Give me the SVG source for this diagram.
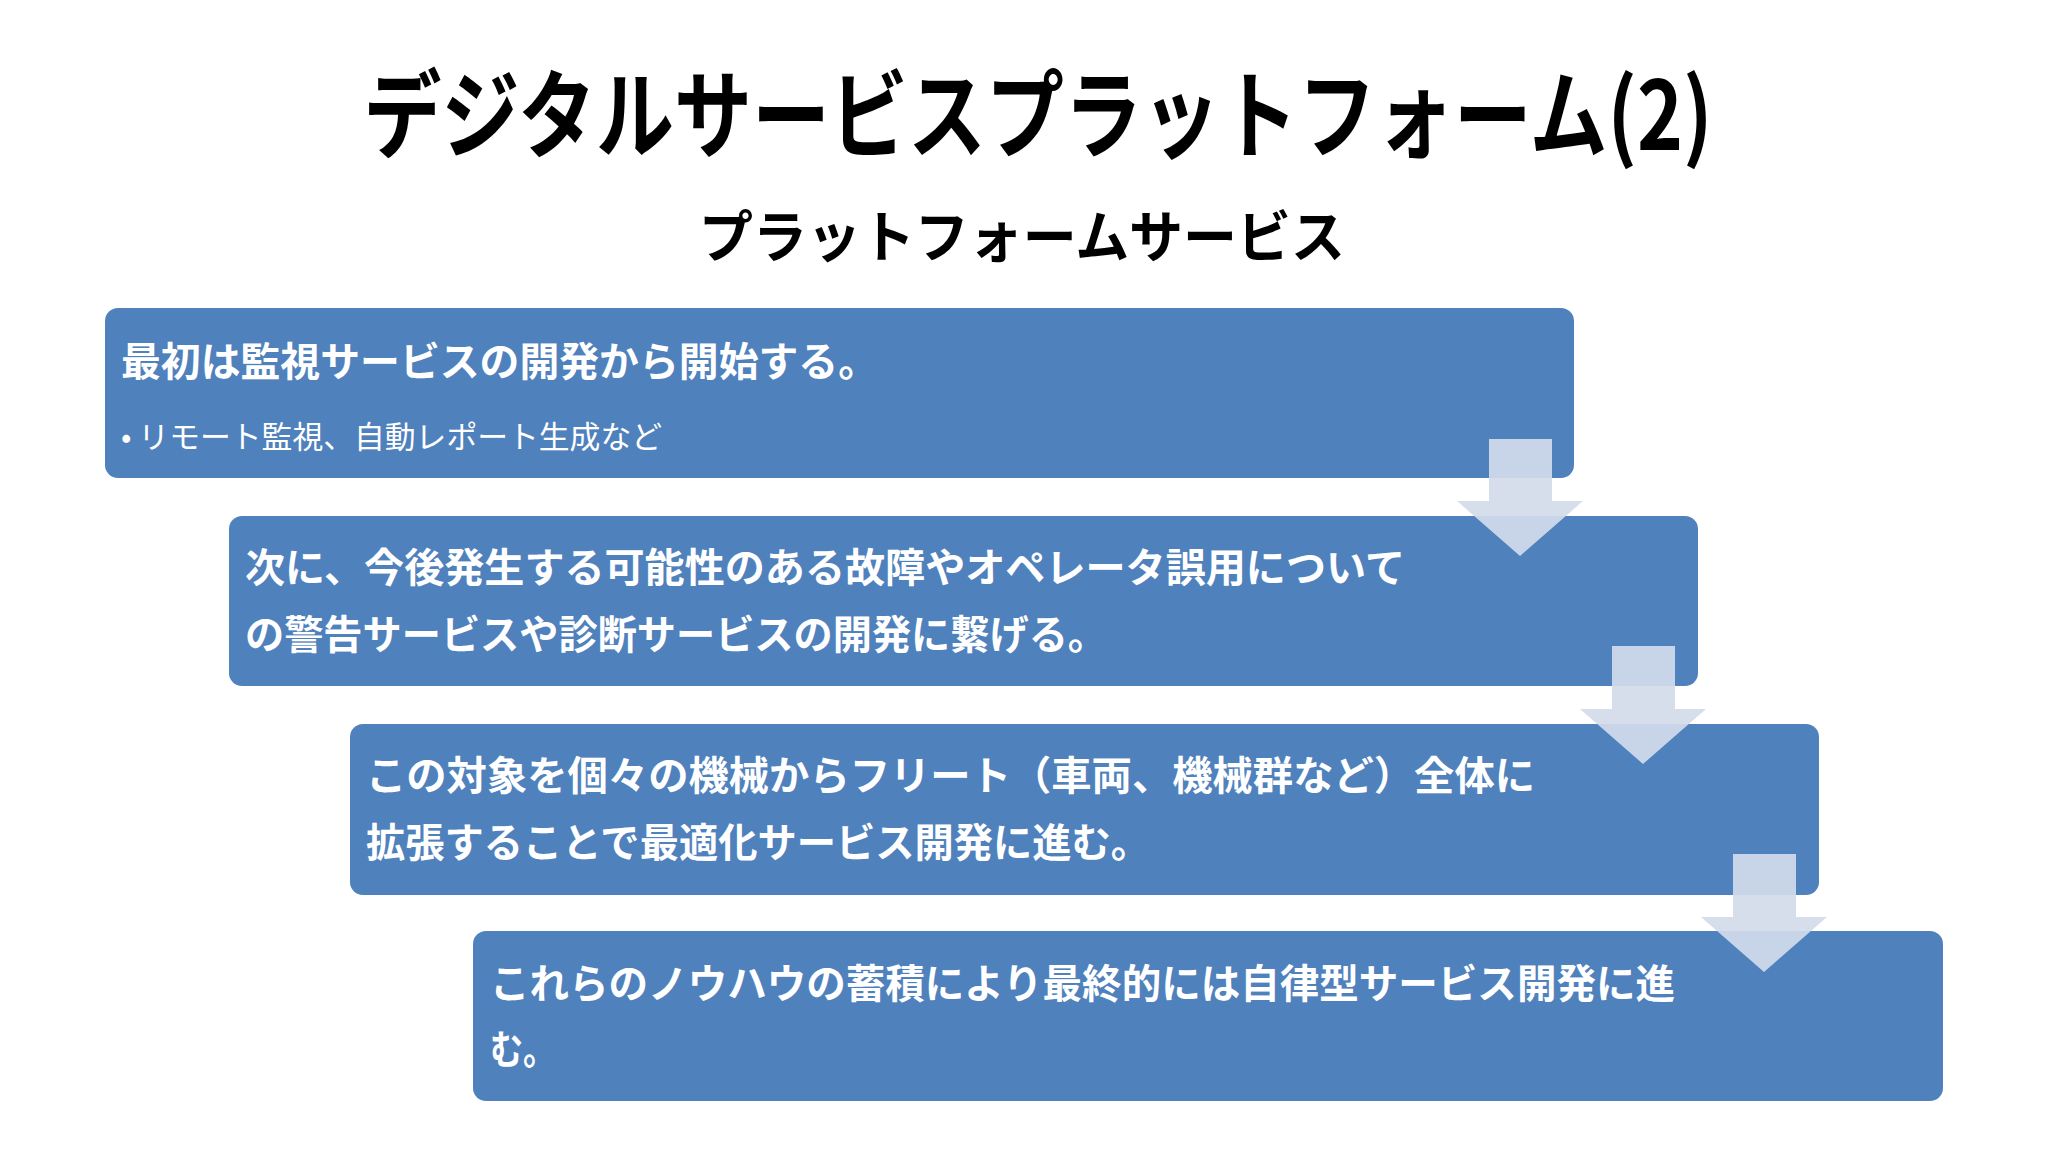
<svg xmlns="http://www.w3.org/2000/svg" width="2048" height="1152" viewBox="0 0 2048 1152">
<style>
.box{fill:#4f81bd}
.t{font-family:"Noto Sans CJK JP",sans-serif;font-weight:bold;fill:#fff;font-size:40px}
.s{font-family:"Noto Sans CJK JP",sans-serif;fill:#fff;font-size:31px}
.h{font-family:"Noto Sans CJK JP",sans-serif;font-weight:bold;fill:#000;text-anchor:middle}
.arr{fill:#d3dbea;opacity:0.92}
</style>
<rect width="2048" height="1152" fill="#fff"/>
<text class="h" x="1038" y="150" font-size="96" textLength="1349" lengthAdjust="spacingAndGlyphs">デジタルサービスプラットフォーム(2)</text>
<text class="h" x="1022" y="257" font-size="56" textLength="646" lengthAdjust="spacingAndGlyphs">プラットフォームサービス</text>
<g id="node1"><rect class="box" x="105" y="308" width="1469" height="170" rx="13"/>
<text class="t" x="121" y="376" textLength="757" lengthAdjust="spacingAndGlyphs">最初は監視サービスの開発から開始する。</text>
<text class="s" x="121" y="448" textLength="541" lengthAdjust="spacingAndGlyphs">• リモート監視、自動レポート生成など</text></g>
<g id="node2"><rect class="box" x="229" y="516" width="1469" height="170" rx="13"/>
<text class="t" x="245" y="582" textLength="1160" lengthAdjust="spacingAndGlyphs">次に、今後発生する可能性のある故障やオペレータ誤用について</text>
<text class="t" x="245" y="649" textLength="862" lengthAdjust="spacingAndGlyphs">の警告サービスや診断サービスの開発に繋げる。</text></g>
<g id="node3"><rect class="box" x="350" y="724" width="1469" height="171" rx="13"/>
<text class="t" x="366" y="790" textLength="1169" lengthAdjust="spacingAndGlyphs">この対象を個々の機械からフリート（車両、機械群など）全体に</text>
<text class="t" x="366" y="857" textLength="784" lengthAdjust="spacingAndGlyphs">拡張することで最適化サービス開発に進む。</text></g>
<g id="node4"><rect class="box" x="473" y="931" width="1470" height="170" rx="13"/>
<text class="t" x="490" y="998" textLength="1185" lengthAdjust="spacingAndGlyphs">これらのノウハウの蓄積により最終的には自律型サービス開発に進</text>
<text class="t" x="490" y="1064" textLength="66" lengthAdjust="spacingAndGlyphs">む。</text></g>
<g id="connectors">
<polygon class="arr" points="1489,439 1552,439 1552,501 1583,501 1520,556 1457,501 1489,501"/>
<polygon class="arr" points="1612,646 1675,646 1675,709 1706,709 1643,764 1580,709 1612,709"/>
<polygon class="arr" points="1733,854 1796,854 1796,917 1827,917 1764,972 1701,917 1733,917"/>
</g>
</svg>
